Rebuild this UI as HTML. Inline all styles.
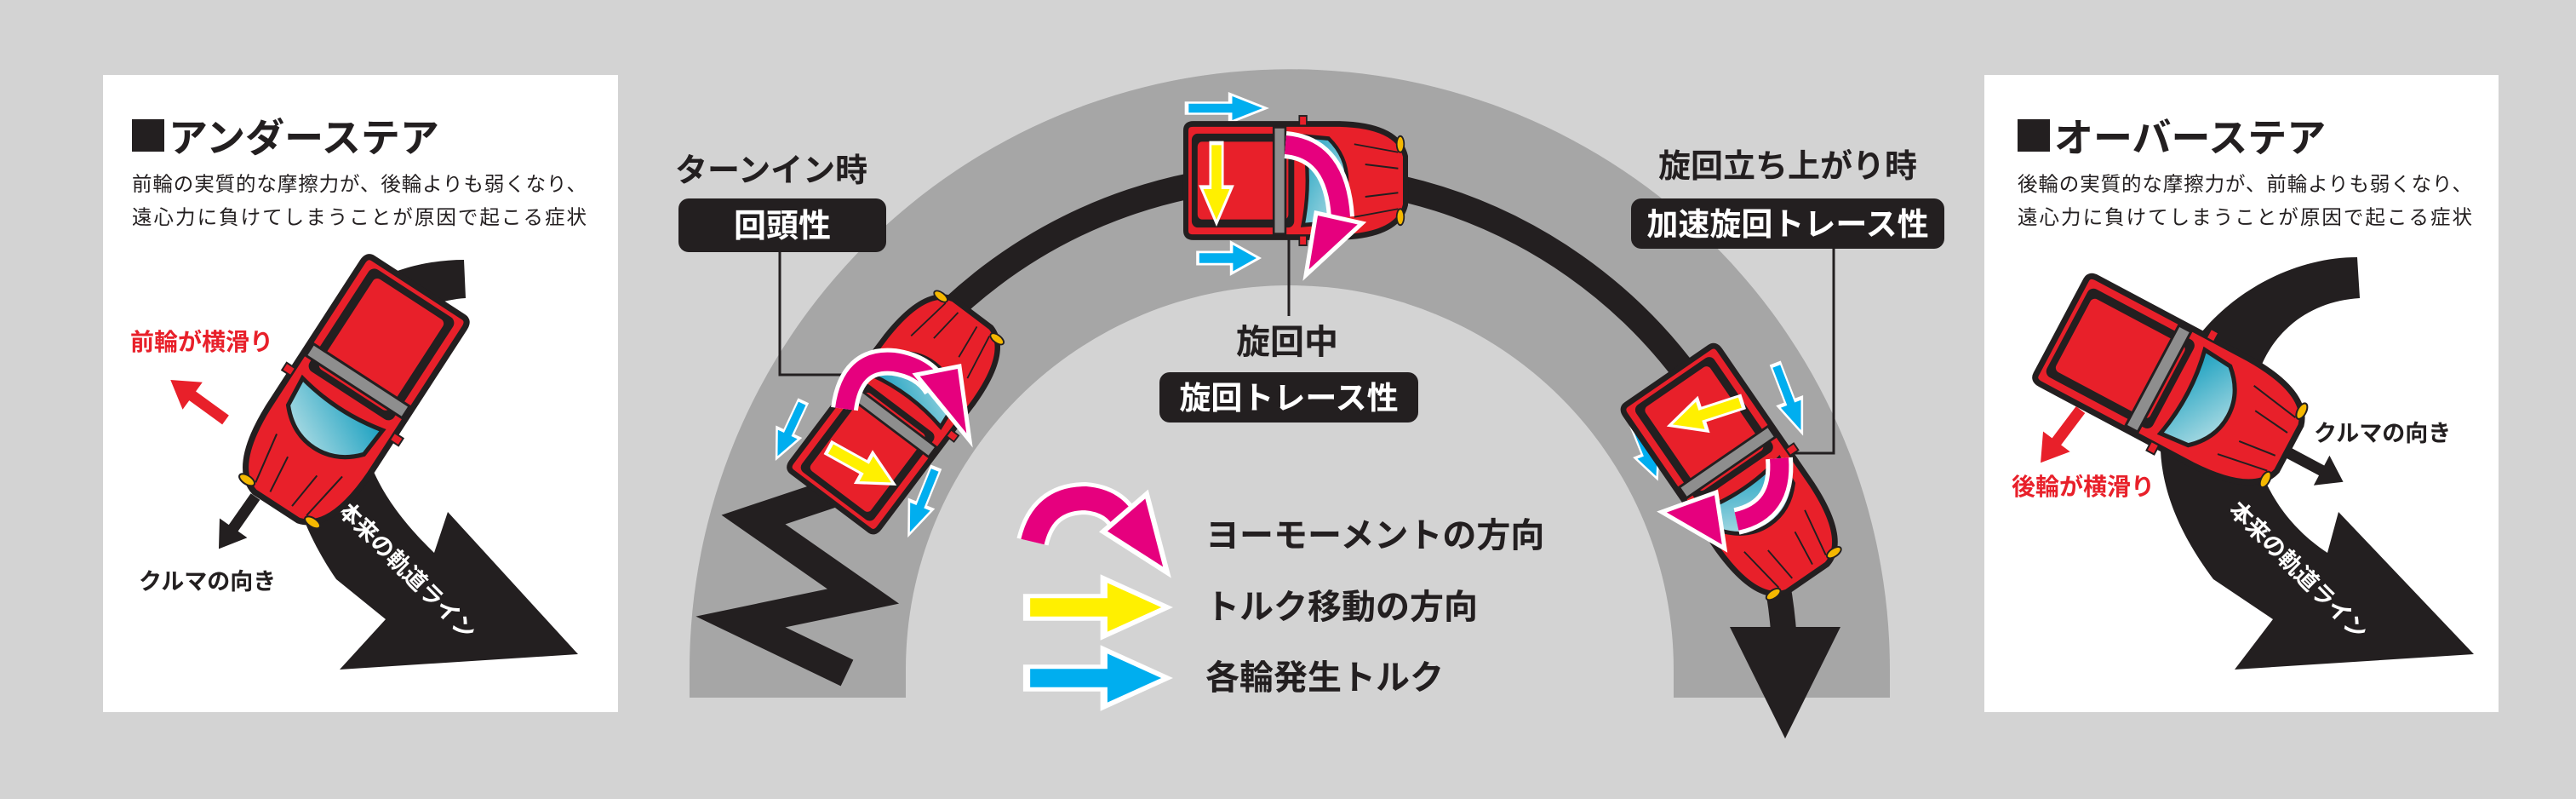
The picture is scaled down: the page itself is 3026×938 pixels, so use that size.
<!DOCTYPE html>
<html><head><meta charset="utf-8"><style>
html,body{margin:0;padding:0;background:#d3d3d3;}
svg{display:block;}
text{font-family:"Liberation Sans","Noto Sans CJK JP",sans-serif;}
.b{font-weight:bold;}
</style></head><body>
<svg width="3026" height="938" viewBox="0 0 3026 938" xmlns="http://www.w3.org/2000/svg">
<defs>
<linearGradient id="gl" x1="0" y1="0" x2="1" y2="1"><stop offset="0" stop-color="#1aa0c0"/><stop offset="1" stop-color="#bfe3e8"/></linearGradient>
<g id="car">
  <path d="M-150,-62 Q-150,-70 -140,-70 L60,-70 Q140,-68 150,-30 L150,30 Q140,68 60,70 L-140,70 Q-150,70 -150,62 Z" fill="#e8202a" stroke="#231f20" stroke-width="7"/>
  <rect x="-142" y="-58" width="140" height="116" rx="8" fill="#231f20"/>
  <rect x="-134" y="-48" width="124" height="96" rx="6" fill="#e8202a"/>
  <path d="M10,-55 L45,-52 Q70,-30 70,0 Q70,30 45,52 L10,55 Q22,0 10,-55 Z" fill="url(#gl)" stroke="#231f20" stroke-width="5"/>
  <rect x="-30" y="-66" width="16" height="132" fill="#8e8e8e" stroke="#231f20" stroke-width="3"/>
  <path d="M80,-45 L140,-35 M80,45 L140,35 M95,-20 L140,-15 M95,20 L140,15" stroke="#231f20" stroke-width="2"/>
  <ellipse cx="143" cy="-45" rx="5" ry="10" fill="#f5b800" stroke="#231f20" stroke-width="2"/>
  <ellipse cx="143" cy="45" rx="5" ry="10" fill="#f5b800" stroke="#231f20" stroke-width="2"/>
  <rect x="5" y="-80" width="10" height="12" fill="#e8202a" stroke="#231f20" stroke-width="2"/>
  <rect x="5" y="68" width="10" height="12" fill="#e8202a" stroke="#231f20" stroke-width="2"/>
</g>
<polygon id="ya" points="0,-13 55,-13 55,-33 100,0 55,33 55,13 0,13" fill="#fff000" stroke="#fff" stroke-width="5" stroke-linejoin="miter"/>
<polygon id="ca" points="0,-13 55,-13 55,-33 100,0 55,33 55,13 0,13" fill="#00aeef" stroke="#fff" stroke-width="5"/>
<polygon id="ra" points="0,-6 60,-6 60,-18 100,0 60,18 60,6 0,6" fill="#e8202a"/>
<polygon id="ka" points="0,-6 60,-6 60,-18 100,0 60,18 60,6 0,6" fill="#231f20"/>
</defs>

<rect width="3026" height="938" fill="#d3d3d3"/>

<!-- left panel -->
<rect x="121" y="88" width="605" height="748" fill="#fff"/>
<rect x="155" y="140" width="38" height="38" fill="#231f20"/>
<text x="198" y="178" font-size="46" class="b" fill="#231f20">アンダーステア</text>
<text x="155" y="224" font-size="23.5" fill="#231f20" textLength="534">前輪の実質的な摩擦力が、後輪よりも弱くなり、</text>
<text x="155" y="263" font-size="23.5" fill="#231f20" textLength="534">遠心力に負けてしまうことが原因で起こる症状</text>
<path d="M545,305 C470,305 380,340 350,440 C325,520 340,600 395,680 L453,727 L399,786 L679,768 L526,601 L510,649 C470,610 430,560 425,500 C420,420 470,355 547,350 Z" fill="#231f20"/>
<text transform="translate(395,600) rotate(45)" font-size="27" class="b" fill="#fff">本来の軌道ライン</text>
<use href="#car" transform="translate(408,466) rotate(123) scale(1.02)"/>
<use href="#ra" transform="translate(265,493) rotate(-144) scale(0.8,1.1)"/>
<use href="#ka" transform="translate(300,583) rotate(125) scale(0.75,1.1)"/>
<text x="153" y="411" font-size="28" class="b" fill="#e8202a">前輪が横滑り</text>
<text x="163" y="692" font-size="27" class="b" fill="#231f20">クルマの向き</text>

<!-- right panel -->
<rect x="2331" y="88" width="604" height="748" fill="#fff"/>
<rect x="2370" y="140" width="38" height="38" fill="#231f20"/>
<text x="2413" y="178" font-size="46" class="b" fill="#231f20">オーバーステア</text>
<text x="2370" y="224" font-size="23.5" fill="#231f20" textLength="534">後輪の実質的な摩擦力が、前輪よりも弱くなり、</text>
<text x="2370" y="263" font-size="23.5" fill="#231f20" textLength="534">遠心力に負けてしまうことが原因で起こる症状</text>
<path d="M2769,302 C2680,302 2590,360 2555,440 C2520,520 2540,600 2600,680 L2670,727 L2625,786 L2906,768 L2747,601 L2734,649 C2690,620 2650,570 2645,500 C2640,420 2690,355 2772,350 Z" fill="#231f20"/>
<text transform="translate(2617,600) rotate(45)" font-size="27" class="b" fill="#fff">本来の軌道ライン</text>
<use href="#car" transform="translate(2555,455) rotate(28) scale(1.01)"/>
<use href="#ra" transform="translate(2444,481) rotate(127) scale(0.78,1.1)"/>
<use href="#ka" transform="translate(2689,532) rotate(28) scale(0.72,1.1)"/>
<text x="2363" y="581" font-size="28" class="b" fill="#e8202a">後輪が横滑り</text>
<text x="2718" y="518" font-size="27" class="b" fill="#231f20">クルマの向き</text>

<!-- arch -->
<path d="M810,819 L810,786 A705,705 0 0 1 2220,786 L2220,819 L1966,819 L1966,786 A451,451 0 0 0 1064,786 L1064,819 Z" fill="#a6a6a6"/>
<path d="M1040,452 A582,582 0 0 1 2097,786 L2097,745" fill="none" stroke="#231f20" stroke-width="30"/>
<polygon points="2032,736 2162,736 2097,867" fill="#231f20"/>
<polyline points="1005,570 885,610 1014,700 870,730 995,790" fill="none" stroke="#231f20" stroke-width="34" stroke-linejoin="miter"/>

<!-- connectors -->
<polyline points="916,296 916,440 1000,440" fill="none" stroke="#231f20" stroke-width="3"/>
<line x1="1514" y1="275" x2="1514" y2="371" stroke="#231f20" stroke-width="3"/>
<polyline points="2154,292 2154,532 2090,532" fill="none" stroke="#231f20" stroke-width="3"/>

<!-- labels -->
<text x="793" y="213" font-size="38" class="b" fill="#231f20">ターンイン時</text>
<rect x="797" y="233" width="244" height="63" rx="12" fill="#231f20"/>
<text x="919" y="278" font-size="38" class="b" fill="#fff" text-anchor="middle">回頭性</text>
<text x="1512" y="415" font-size="40" class="b" fill="#231f20" text-anchor="middle">旋回中</text>
<rect x="1362" y="437" width="304" height="59" rx="12" fill="#231f20"/>
<text x="1514" y="480" font-size="37" class="b" fill="#fff" text-anchor="middle">旋回トレース性</text>
<text x="2100" y="208" font-size="38" class="b" fill="#231f20" text-anchor="middle">旋回立ち上がり時</text>
<rect x="1916" y="233" width="368" height="59" rx="12" fill="#231f20"/>
<text x="2100" y="276" font-size="37" class="b" fill="#fff" text-anchor="middle">加速旋回トレース性</text>

<!-- cars on track -->
<use href="#ca" transform="translate(943,472) rotate(115) scale(0.73,0.45)"/>
<use href="#ca" transform="translate(1099,550) rotate(112) scale(0.84,0.45)"/>
<use href="#car" transform="translate(1059,478) rotate(-53) scale(0.92)"/>
<use href="#ya" transform="translate(974,526) rotate(29) scale(0.87,0.6)"/>
<path d="M992,480 Q1000,420 1050,425 Q1085,430 1100,455" fill="none" stroke="#fff" stroke-width="32"/>
<path d="M992,480 Q1000,420 1050,425 Q1085,430 1100,455" fill="none" stroke="#e6007e" stroke-width="22"/>
<polygon points="1076,440 1127,430 1139,517" fill="#e6007e" stroke="#fff" stroke-width="5"/>

<use href="#ca" transform="translate(1394,127) rotate(0) scale(0.93,0.5)"/>
<use href="#ca" transform="translate(1407,303) rotate(0) scale(0.72,0.55)"/>
<use href="#car" transform="translate(1522,212) rotate(0) scale(0.86,0.95)"/>
<use href="#ya" transform="translate(1429,168) rotate(90) scale(0.94,0.55)"/>
<path d="M1510,170 Q1570,175 1575,255" fill="none" stroke="#fff" stroke-width="32"/>
<path d="M1510,170 Q1570,175 1575,255" fill="none" stroke="#e6007e" stroke-width="22"/>
<polygon points="1546,250 1600,262 1534,323" fill="#e6007e" stroke="#fff" stroke-width="5"/>

<use href="#ca" transform="translate(2086,428) rotate(69) scale(0.86,0.45)"/>
<use href="#ca" transform="translate(1920,496) rotate(68) scale(0.71,0.45)"/>
<use href="#car" transform="translate(2041,560) rotate(55.5) scale(0.96)"/>
<use href="#ya" transform="translate(2046,472) rotate(162) scale(0.89,0.6)"/>
<path d="M2090,538 Q2095,600 2040,612" fill="none" stroke="#fff" stroke-width="32"/>
<path d="M2090,538 Q2095,600 2040,612" fill="none" stroke="#e6007e" stroke-width="22"/>
<polygon points="2016,578 2026,644 1952,601" fill="#e6007e" stroke="#fff" stroke-width="5"/>

<!-- legend -->
<path d="M1213,636 Q1225,585 1275,585 Q1310,588 1322,615" fill="none" stroke="#fff" stroke-width="38"/>
<path d="M1213,636 Q1225,585 1275,585 Q1310,588 1322,615" fill="none" stroke="#e6007e" stroke-width="28"/>
<polygon points="1296,624 1347,580 1371,672" fill="#e6007e" stroke="#fff" stroke-width="6"/>
<use href="#ya" transform="translate(1206,713) scale(1.65,1.02)"/>
<use href="#ca" transform="translate(1206,796) scale(1.65,1.02)"/>
<text x="1416" y="642" font-size="40" class="b" fill="#231f20">ヨーモーメントの方向</text>
<text x="1416" y="726" font-size="40" class="b" fill="#231f20">トルク移動の方向</text>
<text x="1416" y="809" font-size="40" class="b" fill="#231f20">各輪発生トルク</text>
</svg>
</body></html>
